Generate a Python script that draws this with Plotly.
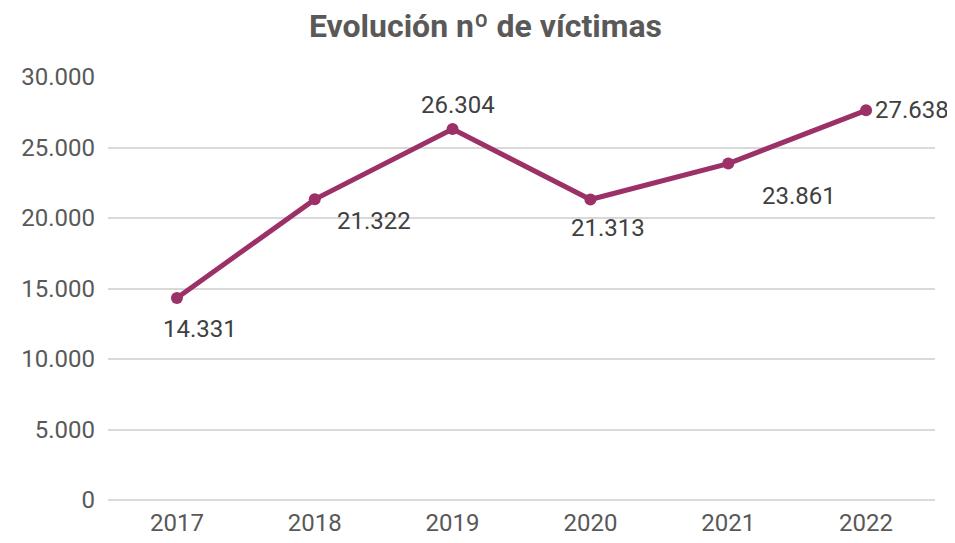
import plotly.graph_objects as go

years = [2017, 2018, 2019, 2020, 2021, 2022]
victims = [14331, 21322, 26304, 21313, 23861, 27638]
# label offsets (px) relative to each point
label_dx = [23, 59, 5, 18, 71, 46]
label_dy = [-31, -22, 24, -29, -32, 0]

LINE = "#9B3166"
GREY = "#595959"

fig = go.Figure()
fig.add_trace(go.Scatter(
    x=years, y=victims, mode="lines+markers",
    line=dict(color=LINE, width=5),
    marker=dict(color=LINE, size=12),
    cliponaxis=False, hoverinfo="skip"))

for yr, v, dx, dy in zip(years, victims, label_dx, label_dy):
    fig.add_annotation(
        x=yr, y=v, text=f"{v:,}".replace(",", "."), showarrow=False,
        xshift=dx, yshift=dy, font=dict(size=24, color="#404040"))

fig.update_layout(
    width=955, height=543,
    margin=dict(l=100, r=28, t=69, b=51),
    paper_bgcolor="white", plot_bgcolor="white",
    separators=",.",
    font=dict(family="Roboto", color=GREY),
    showlegend=False,
    title=dict(text="<b>Evolución nº de víctimas</b>", x=0.5, xanchor="center",
               y=0.967, yanchor="middle", font=dict(size=32, color=GREY)),
)
fig.update_xaxes(range=[2016.5, 2022.5], dtick=1, tickformat="d",
                 showgrid=False, showline=False, zeroline=False,
                 ticks="", tickfont=dict(size=24, color=GREY), ticklabelstandoff=6)
fig.update_yaxes(range=[0, 30000], dtick=5000, tickformat=",d",
                 showgrid=True, gridcolor="#D9D9D9", gridwidth=1.5,
                 zeroline=True, zerolinecolor="#D9D9D9", zerolinewidth=1.5,
                 showline=False, ticks="", ticklabelstandoff=12,
                 tickfont=dict(size=24, color=GREY))

fig.write_html("out.html")
